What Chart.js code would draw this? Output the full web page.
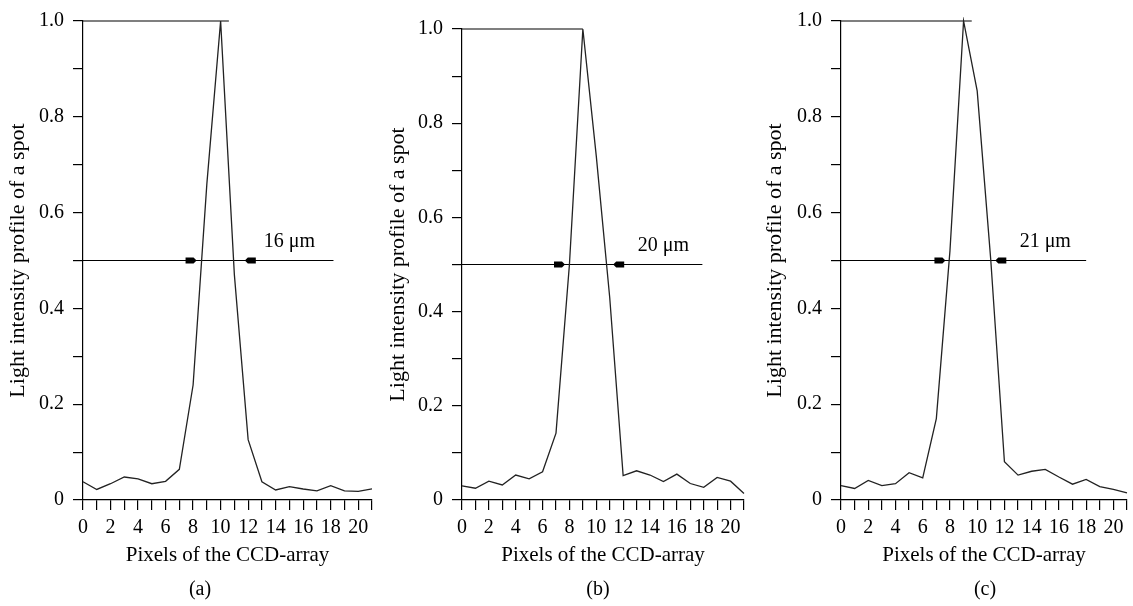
<!DOCTYPE html>
<html>
<head>
    <title>Spot profiles</title>
    <script src="https://cdn.jsdelivr.net/npm/chart.js"></script>
    <style>
        body { margin: 0; background: #fff; }
        #wrap { position: relative; width: 1133px; height: 606px; }
        canvas { position: absolute; top: 0; }
        .cap { position: absolute; top: 577px; font: 20px "Liberation Serif", "Times New Roman", serif; transform: translateX(-50%); }
    </style>
</head>
<body>
<div id="wrap">
    <canvas id="chartA" width="380" height="606" style="left:0px"></canvas>
    <canvas id="chartB" width="372" height="606" style="left:380px"></canvas>
    <canvas id="chartC" width="380" height="606" style="left:753px"></canvas>
    <div class="cap" style="left:200px">(a)</div>
    <div class="cap" style="left:598px">(b)</div>
    <div class="cap" style="left:985px">(c)</div>
</div>

<script>
    // pixel index of the CCD array
    var pixels = [0, 1, 2, 3, 4, 5, 6, 7, 8, 9, 10, 11, 12, 13, 14, 15, 16, 17, 18, 19, 20, 21];

    // light intensity
    var intensityA = [0.038, 0.022, 0.034, 0.048, 0.044, 0.034, 0.039, 0.064, 0.24, 0.66, 1.0,
                      0.47, 0.126, 0.038, 0.021, 0.028, 0.023, 0.019, 0.030, 0.019, 0.018, 0.023];
    var intensityB = [0.030, 0.025, 0.040, 0.032, 0.053, 0.045, 0.060, 0.142, 0.50, 1.0, 0.73,
                      0.43, 0.052, 0.062, 0.053, 0.039, 0.055, 0.035, 0.027, 0.048, 0.040, 0.014];
    var intensityC = [0.030, 0.024, 0.041, 0.030, 0.034, 0.057, 0.046, 0.17, 0.52, 1.0, 0.854,
                      0.50, 0.080, 0.052, 0.060, 0.064, 0.048, 0.033, 0.043, 0.028, 0.022, 0.015];

    // FWHM labels and guide lines
    var widthLabels = ["16 \u03bcm", "20 \u03bcm", "21 \u03bcm"];
    var halfLevel = 0.5;
    var halfLineEnd = [18.2, 17.9, 18.0];
    var topLineEnd = [10.6, 9.0, 9.6];
    var leftArrowTip = [8.25, 7.67, 7.67];
    var rightArrowTip = [11.76, 11.26, 11.33];
    var labelPos = [15, 0.54];

    var yTicks = [0, 0.2, 0.4, 0.6, 0.8, 1.0];

    var serif = '"Liberation Serif", "Times New Roman", serif';

    // draws the FWHM arrows and the width text
    var fwhmPlugin = {
        id: 'fwhm',
        afterDatasetsDraw: function (chart) {
            var i = chart.options.plugins.fwhm.index;
            var x = chart.scales.x, y = chart.scales.y;
            var ctx = chart.ctx;
            var py = y.getPixelForValue(halfLevel);
            ctx.save();
            ctx.fillStyle = '#000';
            // left arrow pointing right
            var lx = x.getPixelForValue(leftArrowTip[i]);
            ctx.beginPath();
            ctx.moveTo(lx, py);
            ctx.lineTo(lx - 3, py - 3);
            ctx.lineTo(lx - 11, py - 3);
            ctx.lineTo(lx - 11, py + 3);
            ctx.lineTo(lx - 3, py + 3);
            ctx.closePath();
            ctx.fill();
            // right arrow pointing left
            var rx = x.getPixelForValue(rightArrowTip[i]);
            ctx.beginPath();
            ctx.moveTo(rx, py);
            ctx.lineTo(rx + 3, py - 3);
            ctx.lineTo(rx + 11, py - 3);
            ctx.lineTo(rx + 11, py + 3);
            ctx.lineTo(rx + 3, py + 3);
            ctx.closePath();
            ctx.fill();
            // width text
            ctx.font = '20px ' + serif;
            ctx.textAlign = 'center';
            ctx.textBaseline = 'middle';
            ctx.fillText(widthLabels[i], x.getPixelForValue(labelPos[0]), y.getPixelForValue(labelPos[1]));
            ctx.restore();
        }
    };

    function makePanel(id, index, values, yWidth, topPad, rightPad, titlePad) {
        var curve = pixels.map(function (p, k) { return { x: p, y: values[k] }; });
        return new Chart(document.getElementById(id), {
            type: 'scatter',
            data: {
                datasets: [
                    {
                        data: curve,
                        showLine: true,
                        borderColor: '#222',
                        borderWidth: 1.3,
                        pointRadius: 0,
                        tension: 0,
                        clip: 4
                    },
                    {
                        data: [{ x: 0, y: halfLevel }, { x: halfLineEnd[index], y: halfLevel }],
                        showLine: true,
                        borderColor: '#000',
                        borderWidth: 1.2,
                        pointRadius: 0,
                        clip: 4
                    },
                    {
                        data: [{ x: 0, y: 1 }, { x: topLineEnd[index], y: 1 }],
                        showLine: true,
                        borderColor: '#000',
                        borderWidth: 1.2,
                        pointRadius: 0,
                        clip: 4
                    }
                ]
            },
            options: {
                responsive: false,
                animation: false,
                layout: { padding: { top: topPad, right: rightPad, bottom: 36, left: 0 } },
                plugins: {
                    legend: { display: false },
                    tooltip: { enabled: false },
                    fwhm: { index: index }
                },
                scales: {
                    x: {
                        type: 'linear',
                        min: 0,
                        max: 21,
                        afterFit: function (s) { s.height = 70; },
                        border: { display: true, color: '#000', width: 1.2 },
                        grid: { drawOnChartArea: false, drawTicks: true, tickLength: 10, color: '#000', lineWidth: 1.2 },
                        ticks: {
                            stepSize: 1,
                            autoSkip: false,
                            maxRotation: 0,
                            padding: 6,
                            color: '#000',
                            font: { family: serif, size: 20 },
                            callback: function (v) { return v % 2 === 0 ? String(v) : ''; }
                        },
                        title: {
                            display: true,
                            text: 'Pixels of the CCD-array',
                            color: '#000',
                            font: { family: serif, size: 21 },
                            padding: { top: 0, bottom: 2 }
                        }
                    },
                    y: {
                        min: 0,
                        max: 1,
                        afterFit: function (s) { s.width = yWidth; },
                        border: { display: true, color: '#000', width: 1.2 },
                        grid: { drawOnChartArea: false, drawTicks: true, tickLength: 10, color: '#000', lineWidth: 1.2 },
                        ticks: {
                            stepSize: 0.1,
                            padding: 9,
                            color: '#000',
                            font: { family: serif, size: 20 },
                            callback: function (v) {
                                var r = Math.round(v * 10) / 10;
                                if (yTicks.indexOf(r) < 0) return '';
                                return r === 0 ? '0' : r.toFixed(1);
                            }
                        },
                        title: {
                            display: true,
                            text: 'Light intensity profile of a spot',
                            color: '#000',
                            font: { family: serif, size: 22 },
                            padding: { top: titlePad, bottom: 0 }
                        }
                    }
                }
            },
            plugins: [fwhmPlugin]
        });
    }

    makePanel('chartA', 0, intensityA, 83, 18, 8, 5);
    makePanel('chartB', 1, intensityB, 82, 29, 8, 5);
    makePanel('chartC', 2, intensityC, 88, 18, 4, 9);
</script>
</body>
</html>
